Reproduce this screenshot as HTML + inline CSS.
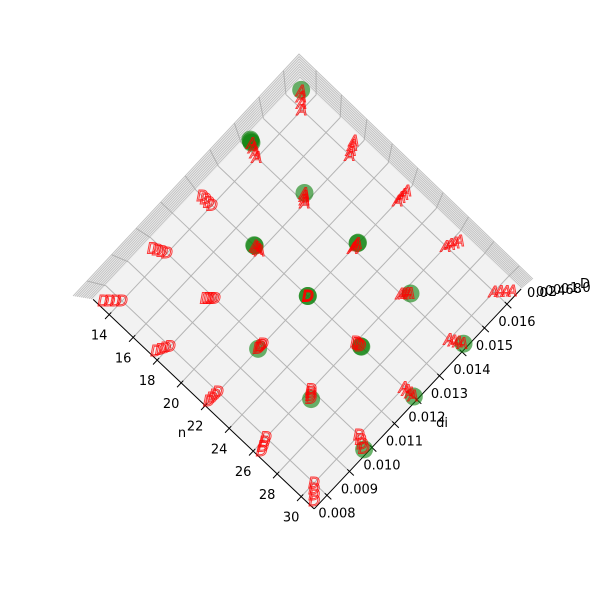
<!DOCTYPE html>
<html><head><meta charset="utf-8"><style>
html,body{margin:0;padding:0;background:#fff}
svg{display:block;font-family:"DejaVu Sans","Liberation Sans",sans-serif}
</style></head><body>
<svg id="chart" width="600" height="600" viewBox="0 0 600 600" xmlns="http://www.w3.org/2000/svg">
<rect x="0" y="0" width="600" height="600" fill="#fff"/>
<g id="walls"></g>
<g id="floor"></g>
<g id="axes"></g>
<g id="marks"></g>
<text x="182" y="437" font-size="13" text-anchor="middle">n</text>
<text x="442" y="427" font-size="13" text-anchor="middle">di</text>
<g font-size="13" fill="#000">
<text x="527" y="297">0.0</text><text x="536" y="296">0.2</text><text x="545" y="295">0.4</text><text x="553" y="294">0.6</text><text x="561" y="293">0.8</text><text x="570" y="292">1.0</text><text x="580" y="288">D</text>
</g>
</svg>
<script>
const nTicks = [14,16,18,20,22,24,26,28,30];
const diTicks = [0.008,0.009,0.010,0.011,0.012,0.013,0.014,0.015,0.016];
const nVals = [14,18,22,26,30];
const diVals = [0.008,0.010,0.012,0.014,0.016];
// red marker label per cell (rows = n, cols = di); '' = none
const redLabels = [
 ['D','D','D','A','A'],
 ['D','D','A','A','A'],
 ['D','D','D','A','A'],
 ['D','D','D','A','A'],
 ['D','D','A','A','A']];
const redZ = [0, 0.3, 0.6, 0.9];
// number of green points per cell
const greenCounts = [
 [0,0,0,3,1],
 [0,0,2,1,0],
 [0,1,2,2,0],
 [0,1,2,1,0],
 [0,1,1,1,0]];
const greenZ = [0.95, 1.05, 1.15];

const NS='http://www.w3.org/2000/svg';
const nMin=12.66,nMax=31.08,dMin=0.00743,dMax=0.01663;
const O=[314,483], an=[12,11.375], ad=[22.5,-23.9], C=[310,300], K=0.11;
function F(n,d){const u=(d-0.008)/0.001;return [O[0]+(n-30)*an[0]+u*ad[0], O[1]+(n-30)*an[1]+u*ad[1]];}
function P(n,d,z){const f=F(n,d);return [f[0]+(f[0]-C[0])*K*z, f[1]+(f[1]-C[1])*K*z];}
function mk(tag,attrs,parent){const e=document.createElementNS(NS,tag);for(const k in attrs)e.setAttribute(k,attrs[k]);parent.appendChild(e);return e;}
function lerp(a,b,t){return [a[0]+(b[0]-a[0])*t,a[1]+(b[1]-a[1])*t];}

const walls=document.getElementById('walls'),floor=document.getElementById('floor'),axes=document.getElementById('axes'),marks=document.getElementById('marks');
const fL=F(nMin,dMin),fT=F(nMin,dMax),fR=F(nMax,dMax),fB=F(nMax,dMin);
const oL=[73,296],oT=[299,54],oR=[533,279];
let w=mk('polygon',{points:[fL,oL,oT,oR,fR,fT].map(p=>p.join(',')).join(' '),fill:'#ececec',stroke:'none'},walls);

for(let i=1;i<=10;i++){const t=i/10;const a=lerp(fL,oL,t),b=lerp(fT,oT,t),c=lerp(fR,oR,t);
 const l=mk('polyline',{points:[a,b,c].map(p=>p.join(',')).join(' '),fill:'none',stroke:'#bdbdbd','stroke-width':0.8},walls);
 
 }
diTicks.forEach(d=>{const f=F(nMin,d);const t=(d-dMin)/(dMax-dMin);const o=lerp(oL,oT,t);
 const l=mk('line',{x1:f[0],y1:f[1],x2:o[0],y2:o[1],stroke:'#b0b0b0','stroke-width':1},walls);
 
 });
nTicks.forEach(n=>{const f=F(n,dMax);const t=(n-nMin)/(nMax-nMin);const o=lerp(oT,oR,t);
 const l=mk('line',{x1:f[0],y1:f[1],x2:o[0],y2:o[1],stroke:'#b0b0b0','stroke-width':1},walls);
 
 });
let fl=mk('polygon',{points:[fL,fT,fR,fB].map(p=>p.join(',')).join(' '),fill:'#f2f2f2',stroke:'none'},floor);

nTicks.forEach(n=>{const a=F(n,dMin),b=F(n,dMax);
 const l=mk('line',{x1:a[0],y1:a[1],x2:b[0],y2:b[1],stroke:'#b5b5b5','stroke-width':1},floor);
 
 });
diTicks.forEach(d=>{const a=F(nMin,d),b=F(nMax,d);
 const l=mk('line',{x1:a[0],y1:a[1],x2:b[0],y2:b[1],stroke:'#b5b5b5','stroke-width':1},floor);
 
 });
const ax1=mk('line',{x1:fL[0],y1:fL[1],x2:fB[0],y2:fB[1],stroke:'#000','stroke-width':1},axes);

const ax2=mk('line',{x1:fB[0],y1:fB[1],x2:fR[0],y2:fR[1],stroke:'#000','stroke-width':1},axes);

const uad=[ad[0]/32.8,ad[1]/32.8], uan=[an[0]/16.5,an[1]/16.5];
nTicks.forEach(n=>{const p=F(n,dMin);
 const t=mk('line',{x1:p[0]-uad[0]*6,y1:p[1]-uad[1]*6,x2:p[0]+uad[0]*3,y2:p[1]+uad[1]*3,stroke:'#000','stroke-width':1},axes);
 
 
 const tx=mk('text',{x:p[0]-10,y:p[1]+25,'font-size':13,'text-anchor':'middle'},axes);tx.textContent=n;
 
 });
diTicks.forEach(d=>{const p=F(nMax,d);
 const t=mk('line',{x1:p[0]-uan[0]*3,y1:p[1]-uan[1]*3,x2:p[0]+uan[0]*6,y2:p[1]+uan[1]*6,stroke:'#000','stroke-width':1},axes);
 
 
 const tx=mk('text',{x:p[0]+10,y:p[1]+22,'font-size':13,'text-anchor':'middle'},axes);tx.textContent=d.toFixed(3);
 
 });
nVals.forEach((n,i)=>diVals.forEach((d,j)=>{
 for(let g=0;g<greenCounts[i][j];g++){const p=P(n,d,greenZ[g]);
  const c=mk('circle',{cx:p[0],cy:p[1],r:9,fill:'#0a800a','fill-opacity':0.6},marks);
  
  }
}));
nVals.forEach((n,i)=>diVals.forEach((d,j)=>{
 const lab=redLabels[i][j]; if(!lab) return;
 redZ.forEach(z=>{const p=P(n,d,z);
  const t=mk('text',{x:p[0],y:p[1]+5,'font-size':15,'font-style':'italic','text-anchor':'middle',fill:'none',stroke:'#ff0000','stroke-opacity':0.75,'stroke-width':1},marks);
  t.textContent=lab;
  
  });
}));
</script>
</body></html>
